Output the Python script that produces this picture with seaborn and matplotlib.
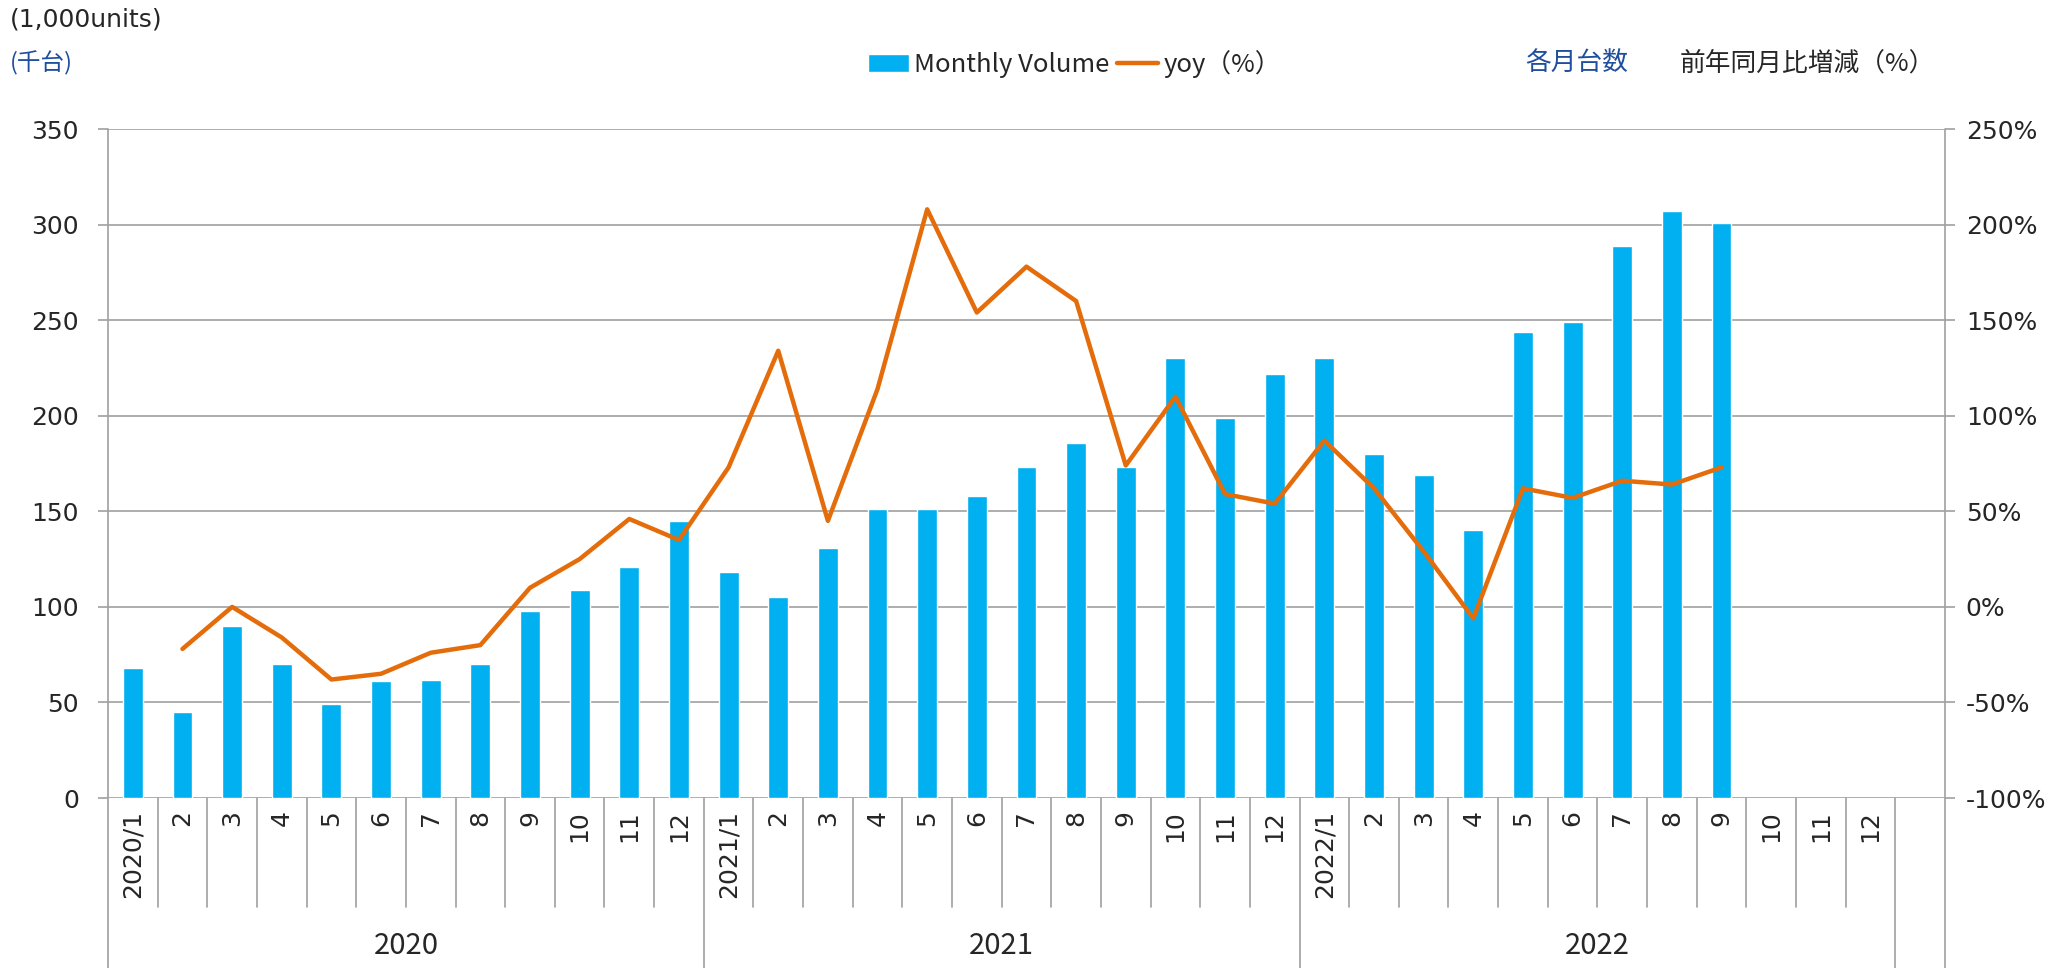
import numpy as np
import pandas as pd
import matplotlib.pyplot as plt
import seaborn as sns
from matplotlib.ticker import FuncFormatter, MultipleLocator

# Data
month_labels = (['2020/1'] + [str(m) for m in range(2, 13)]
                + ['2021/1'] + [str(m) for m in range(2, 13)]
                + ['2022/1'] + [str(m) for m in range(2, 13)])
year_labels = ['2020', '2021', '2022']
volume = [68, 45, 90, 70, 49, 61, 62, 70, 98, 109, 121, 145,
          118, 105, 131, 151, 151, 158, 173, 186, 173, 230, 199, 222,
          230, 180, 169, 140, 244, 249, 289, 307, 301]
yoy = [np.nan, -22, 0, -16, -38, -35, -24, -20, 10, 25, 46, 35,
       73, 134, 45, 114, 208, 154, 178, 160, 74, 110, 59, 54,
       87, 62, 29, -6, 62, 57, 66, 64, 73]

BAR = '#00B0F0'
LINE = '#E46C0A'
GRID = '#A0A0A0'
BLUE_TXT = '#1F4E9F'
JP = ['Noto Sans CJK JP', 'DejaVu Sans']

sns.set_style('white')
plt.rcParams['font.family'] = ['DejaVu Sans', 'Noto Sans CJK JP']

df = pd.DataFrame({'pos': np.arange(len(volume)), 'volume': volume, 'yoy': yoy})

fig = plt.figure(figsize=(20.61, 9.68), dpi=100)
ax = fig.add_axes([0.0524, 0.1756, 0.8913, 0.6911])
ax2 = ax.twinx()

sns.barplot(data=df, x='pos', y='volume', native_scale=True, width=0.4,
            color=BAR, saturation=1, errorbar=None, ax=ax,
            label='Monthly Volume')
sns.lineplot(data=df, x='pos', y='yoy', color=LINE, linewidth=3.2,
             estimator=None, ax=ax2, label='yoy（%）')

n_slots = len(month_labels) + 1
ax.set_xlim(-0.5, n_slots - 0.5)
ax.set_ylim(0, 350)
ax.yaxis.set_major_locator(MultipleLocator(50))
ax2.set_ylim(-100, 250)
ax2.yaxis.set_major_locator(MultipleLocator(50))
ax2.yaxis.set_major_formatter(FuncFormatter(lambda v, p: f'{int(v)}%'))

ax.set_xlabel('')
ax.set_ylabel('')
ax2.set_xlabel('')
ax2.set_ylabel('')
ax.set_xticks([])
ax.grid(axis='y', color=GRID, linewidth=1.2)
ax.set_axisbelow(True)

for a in (ax, ax2):
    for s in a.spines.values():
        s.set_visible(False)
ax.tick_params(axis='y', length=7, width=1.2, color=GRID, pad=14, labelsize=18,
               left=True)
ax2.tick_params(axis='y', length=7, width=1.2, color=GRID, pad=8, labelsize=18,
                right=True)
ax2.get_legend().remove()
if ax.get_legend():
    ax.get_legend().remove()

# multi-level category axis
trans = ax.get_xaxis_transform()
for i, lbl in enumerate(month_labels):
    ax.text(i, -0.018, lbl, rotation=90, ha='center', va='top',
            transform=trans, fontsize=18)
for i in range(1, n_slots - 1):
    if i % 12 != 0:
        ax.plot([i - 0.5, i - 0.5], [0, -0.163], transform=trans,
                clip_on=False, color=GRID, linewidth=1.2)
for b in [11.5, 23.5, 35.5]:
    ax.plot([b, b], [0, -0.26], transform=trans, clip_on=False,
            color=GRID, linewidth=1.2)
for b in [-0.5, n_slots - 0.5]:
    ax.plot([b, b], [1, -0.26], transform=trans, clip_on=False,
            color=GRID, linewidth=1.2)
for k, yr in enumerate(year_labels):
    ax.text(5.5 + 12 * k, -0.221, yr, ha='center', va='center',
            transform=trans, fontsize=21, family=JP)

# header texts and legend
fig.text(0.005, 0.980, '(1,000units)', fontsize=18, va='center')
fig.text(0.005, 0.935, '(千台)', fontsize=17, va='center', color=BLUE_TXT,
         family=JP)
handles = [ax.patches[0], ax2.lines[0]]
fig.legend(handles, ['Monthly Volume', 'yoy（%）'], ncol=2, frameon=False,
           loc='center left', bbox_to_anchor=(0.421, 0.934),
           prop={'family': JP, 'size': 18.5}, handlelength=1.6,
           handleheight=0.7, handletextpad=0.2, columnspacing=0.3,
           borderaxespad=0, borderpad=0)
fig.text(0.740, 0.934, '各月台数', fontsize=18.5, va='center', color=BLUE_TXT,
         family=JP)
fig.text(0.815, 0.934, '前年同月比増減（%）', fontsize=18.5, va='center', family=JP)

fig.savefig('out.png', dpi=100)
